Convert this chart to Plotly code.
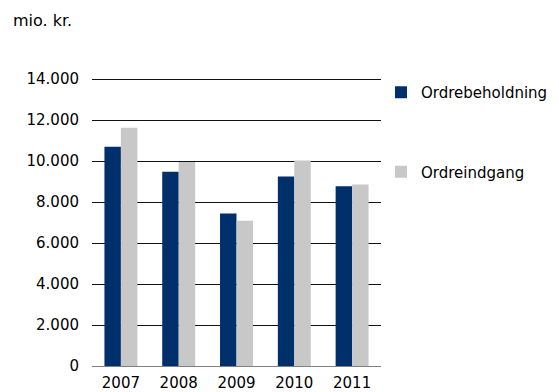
import plotly.graph_objects as go

years = ["2007", "2008", "2009", "2010", "2011"]
ordrebeholdning = [10700, 9480, 7440, 9240, 8770]
ordreindgang = [11630, 9950, 7090, 10030, 8850]
y_ticks = [0, 2000, 4000, 6000, 8000, 10000, 12000, 14000]

font_family = "DejaVu Sans, Verdana, sans-serif"

# page body has an 8px margin, so the figure is sized to fill the rest
W, H = 551, 384
L, R, T, B = 84, 178, 69, 26
plot_w = W - L - R
plot_h = H - T - B

fig = go.Figure()
fig.add_trace(go.Bar(x=years, y=ordrebeholdning, name="Ordrebeholdning",
                     marker=dict(color="#00306B", line=dict(width=0)),
                     legendgroup="a"))
fig.add_trace(go.Bar(x=years, y=ordreindgang, name="Ordreindgang",
                     marker=dict(color="#C8C8C8", line=dict(width=0)),
                     legendgroup="b"))

fig.update_layout(
    width=W, height=H,
    margin=dict(l=L, r=R, t=T, b=B, autoexpand=False),
    paper_bgcolor="white", plot_bgcolor="white",
    barmode="group", bargap=0.43, bargroupgap=0,
    separators=",.",
    font=dict(family=font_family, size=14, color="#000000"),
    showlegend=True,
    legend=dict(x=1.0, xanchor="left", y=1.0 + 1 / plot_h, yanchor="top",
                tracegroupgap=57, itemwidth=30,
                font=dict(family=font_family, size=15, color="#000000"),
                bgcolor="rgba(0,0,0,0)", traceorder="grouped"),
)
fig.add_annotation(text="mio. kr.", xref="paper", yref="paper",
                   x=(3 - L) / plot_w, y=1 + (T - 13) / plot_h,
                   xanchor="left", yanchor="middle", showarrow=False,
                   font=dict(family=font_family, size=16, color="#000"))

fig.update_yaxes(range=[0, 14100], tickvals=y_ticks, tickformat=",d",
                 automargin=False,
                 showgrid=True, gridcolor="#111111", gridwidth=1,
                 zeroline=True, zerolinecolor="#808080", zerolinewidth=1,
                 showline=False, ticks="outside", ticklen=9,
                 tickcolor="rgba(0,0,0,0)",
                 tickfont=dict(family=font_family, size=15, color="#000"))
fig.update_xaxes(automargin=False,
                 showgrid=False, showline=False, ticks="outside", ticklen=3,
                 tickcolor="rgba(0,0,0,0)",
                 tickfont=dict(family=font_family, size=15, color="#000"))

fig.write_html("out.html")
